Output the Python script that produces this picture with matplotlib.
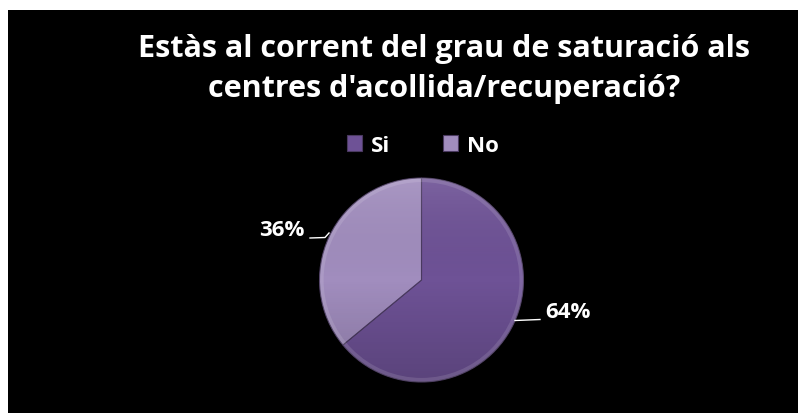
import numpy as np
import matplotlib
matplotlib.use("Agg")
import matplotlib.pyplot as plt
from matplotlib.patches import Rectangle, Circle

# data
labels = ["Si", "No"]
values = [64, 36]
colors = ["#6e5296", "#a18dbe"]
title = "Estàs al corrent del grau de saturació als\ncentres d'acollida/recuperació?"

W, H = 798, 414
plt.rcParams['font.family'] = ['Open Sans', 'DejaVu Sans']

fig = plt.figure(figsize=(W / 100, H / 100), dpi=100, facecolor="white")
ax = fig.add_axes([0, 0, 1, 1])
ax.set_xlim(0, W)
ax.set_ylim(0, H)
ax.set_aspect("equal")
ax.axis("off")

# black chart area (white margin on left and top)
ax.add_patch(Rectangle((8, 0), W - 8, H - 11, facecolor="black", edgecolor="none", zorder=0))

cx, cy, r = 421.5, H - 281, 102
wedges, _ = ax.pie(values, colors=colors, startangle=90, counterclock=False,
                   center=(cx, cy), radius=r,
                   wedgeprops=dict(edgecolor="#4a3a60", linewidth=0.8))
for w in wedges:
    w.set_zorder(2)
ax.set_xlim(0, W)
ax.set_ylim(0, H)

# soft vertical shading over the pie (lighter on top, darker at the bottom)
grad = np.linspace(0, 1, 256).reshape(-1, 1)
cmap = matplotlib.colors.LinearSegmentedColormap.from_list(
    "shade", [(0, 0, 0, 0.18), (0, 0, 0, 0.0), (1, 1, 1, 0.10)])
im = ax.imshow(grad, extent=(cx - r, cx + r, cy - r, cy + r), cmap=cmap,
               origin="lower", aspect="auto", zorder=3)
clip = Circle((cx, cy), r, transform=ax.transData)
im.set_clip_path(clip)
ax.add_patch(Circle((cx, cy), r - 2, facecolor="none", edgecolor=(1, 1, 1, 0.12),
                    linewidth=3, zorder=4))

# percentage labels with leader lines
ax.plot([310, 325, 329], [H - 239, H - 238.5, H - 234], color="white", lw=1, zorder=5)
ax.plot([515, 540], [H - 321.5, H - 320.5], color="white", lw=1, zorder=5)
ax.text(282, H - 231, "36%", color="white", fontsize=16, fontweight="bold",
        ha="center", va="center", zorder=6)
ax.text(568, H - 313, "64%", color="white", fontsize=16, fontweight="bold",
        ha="center", va="center", zorder=6)

# title
ax.text(444, H - 69, title, color="white", fontsize=22, fontweight="bold",
        ha="center", va="center", linespacing=1.42, zorder=6)

# legend
leg = ax.legend(wedges, labels, ncol=2, frameon=False, loc="center",
                bbox_to_anchor=(423 / W, 1 - 146 / H), bbox_transform=fig.transFigure,
                handlelength=0.7, handleheight=0.7, handletextpad=0.4,
                columnspacing=2.35, prop=dict(size=16, weight="bold"))
for t in leg.get_texts():
    t.set_color("white")

fig.savefig("out.png", dpi=100, facecolor="white")
